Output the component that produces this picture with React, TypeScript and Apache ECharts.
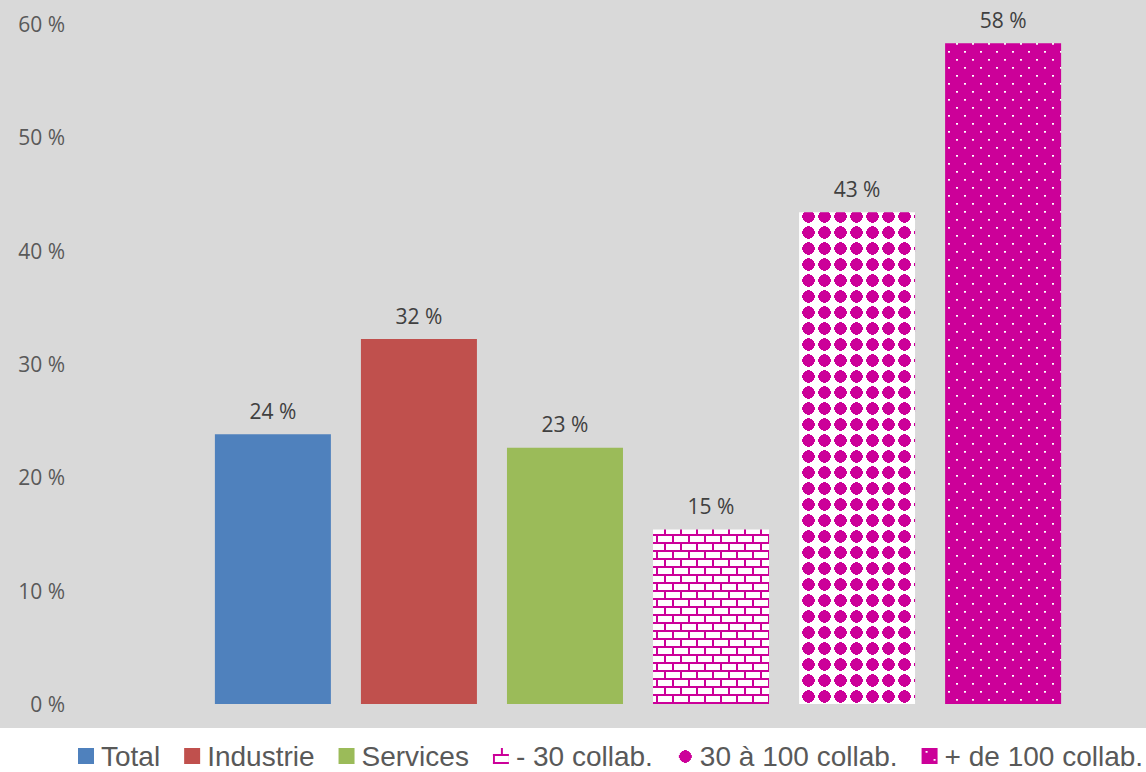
import React, { useEffect, useRef } from 'react';
import * as echarts from 'echarts';

const categories = ['Entreprises'];
const seriesNames = ['Total', 'Industrie', 'Services', '- 30 collab.', '30 à 100 collab.', '+ de 100 collab.'];
const seriesValues = [23.8, 32.2, 22.6, 15.4, 43.4, 58.3];
const solidColors = ['#4f81bd', '#c0504d', '#9bbb59'];
const yTicks = { min: 0, max: 60, interval: 10 };

const MAGENTA = '#cc0099';

function makeTile(draw: (ctx: CanvasRenderingContext2D) => void, w = 16, h = 16) {
  const c = document.createElement('canvas');
  c.width = w;
  c.height = h;
  const ctx = c.getContext('2d')!;
  draw(ctx);
  return c;
}

function brickTile() {
  return makeTile((ctx) => {
    ctx.fillStyle = '#ffffff';
    ctx.fillRect(0, 0, 16, 16);
    ctx.fillStyle = MAGENTA;
    ctx.fillRect(0, 6, 16, 2);
    ctx.fillRect(0, 14, 16, 2);
    ctx.fillRect(8, 0, 2, 6);
    ctx.fillRect(0, 8, 2, 6);
  });
}

function blobTile() {
  return makeTile((ctx) => {
    ctx.fillStyle = '#ffffff';
    ctx.fillRect(0, 0, 16, 16);
    ctx.fillStyle = MAGENTA;
    ctx.fillRect(4, 4, 9, 9);
    ctx.fillRect(5, 3, 7, 11);
    ctx.fillRect(3, 5, 11, 7);
    ctx.fillRect(7, 2, 3, 13);
    ctx.fillRect(2, 7, 13, 3);
  });
}

function dotTile() {
  return makeTile((ctx) => {
    ctx.fillStyle = MAGENTA;
    ctx.fillRect(0, 0, 16, 16);
    ctx.fillStyle = '#ffffff';
    ctx.fillRect(4, 3, 2, 1);
    ctx.fillRect(12, 11, 2, 1);
    ctx.fillStyle = '#f0b8e0';
    ctx.fillRect(4, 4, 2, 1);
    ctx.fillRect(12, 12, 2, 1);
  });
}

export default function App() {
  const ref = useRef<HTMLDivElement>(null);
  useEffect(() => {
    if (!ref.current) return;
    const chart = echarts.init(ref.current, null, { renderer: 'svg' });
    const patterns = [brickTile(), blobTile(), dotTile()].map((c) => ({
      image: c.toDataURL(),
      repeat: 'repeat',
      imageWidth: 16,
      imageHeight: 16,
    }));
    const colors: any[] = [...solidColors, ...patterns];
    const series = seriesNames.map((name, i) => ({
      name,
      type: 'bar',
      data: [seriesValues[i]],
      barWidth: 116,
      barGap: '25.9%',
      itemStyle: { color: colors[i] },
      label: {
        show: true,
        position: 'top',
        distance: 13,
        formatter: (p: any) => Math.round(p.value) + ' %',
        fontSize: 21,
        color: '#404040',
        fontFamily: 'Open Sans',
      },
    }));
    chart.setOption({
      animation: false,
      backgroundColor: '#ffffff',
      graphic: {
        elements: [
          {
            type: 'rect',
            z: -10,
            silent: true,
            shape: { x: 0, y: 0, width: 1146, height: 728 },
            style: { fill: '#d9d9d9' },
          },
        ],
      },
      grid: { left: 130, right: 0, top: 24, bottom: 68 },
      xAxis: {
        type: 'category',
        data: categories,
        axisLine: { show: false },
        axisTick: { show: false },
        axisLabel: { show: false },
      },
      yAxis: {
        type: 'value',
        min: yTicks.min,
        max: yTicks.max,
        interval: yTicks.interval,
        splitLine: { show: false },
        axisLine: { show: false },
        axisTick: { show: false },
        axisLabel: {
          formatter: '{value} %',
          margin: 65,
          fontSize: 21,
          color: '#595959',
          fontFamily: 'Open Sans',
        },
      },
      legend: {
        data: seriesNames,
        left: 78,
        top: 742,
        padding: 0,
        itemWidth: 16,
        itemHeight: 16,
        itemGap: 24,
        icon: 'rect',
        textStyle: {
          fontSize: 28,
          color: '#595959',
          fontFamily: 'Liberation Sans',
          padding: [0, 0, 0, 2],
        },
      },
      series,
    });
    return () => chart.dispose();
  }, []);
  return (
    <div
      ref={ref}
      style={{ position: 'fixed', left: 0, top: 0, width: 1146, height: 772 }}
    />
  );
}
